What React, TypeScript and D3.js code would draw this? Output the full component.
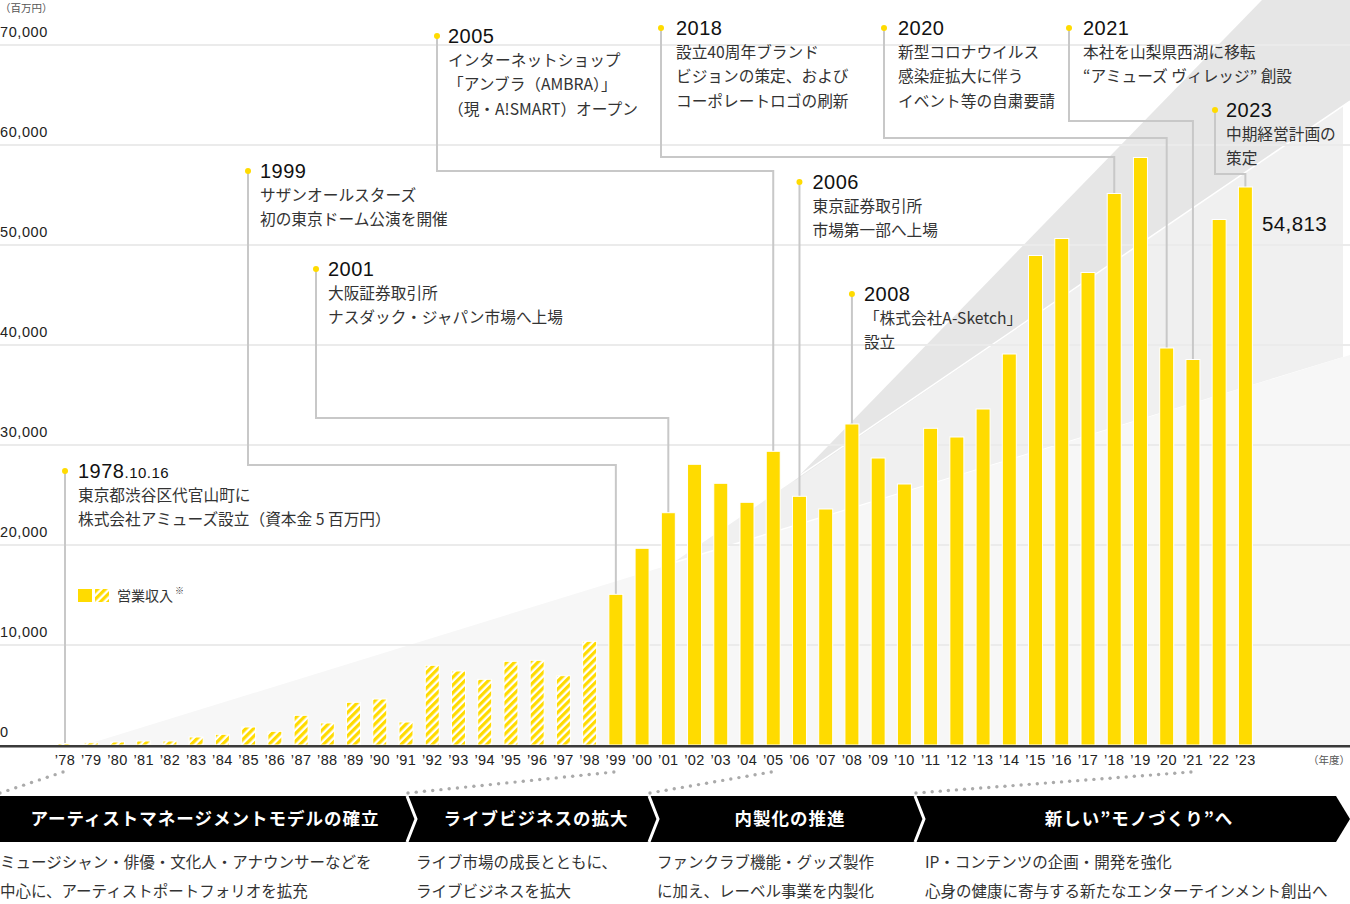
import React from "react";
import * as d3 from "d3";

// ---------- DATA ----------
const yearLabels = [
  "78","79","80","81","82","83","84","85","86","87","88","89","90","91","92","93","94","95","96","97","98",
  "99","00","01","02","03","04","05","06","07","08","09","10","11","12","13","14","15","16","17","18","19","20","21","22","23",
];
const revenue = [
  150, 220, 300, 400, 400, 800, 1070, 1800, 1370, 2970, 2200, 4270, 4600, 2300, 7970, 7400, 6570, 8370, 8470, 6930, 10370,
  15070, 19670, 23230, 28070, 26170, 24270, 29370, 24870, 23600, 32100, 28700, 26100, 31670, 30800, 33600, 39100, 48950,
  50650, 47250, 55150, 58750, 39700, 38550, 52550, 55800,
];
const hatchedUntil = "98"; // bars up to this year are hatched
const yTicks = [0, 10000, 20000, 30000, 40000, 50000, 60000, 70000];
const lastValueLabel = "54,813";

const annoYears = ["78", "99", "01", "05", "06", "08", "18", "20", "21", "23"];
const annoTitles = ["1978", "1999", "2001", "2005", "2006", "2008", "2018", "2020", "2021", "2023"];
const annoTitleSuffix = [".10.16", "", "", "", "", "", "", "", "", ""];
const annoLines = [
  ["東京都渋谷区代官山町に", "株式会社アミューズ設立（資本金 5 百万円）"],
  ["サザンオールスターズ", "初の東京ドーム公演を開催"],
  ["大阪証券取引所", "ナスダック・ジャパン市場へ上場"],
  ["インターネットショップ", "「アンブラ（AMBRA）」", "（現・A!SMART）オープン"],
  ["東京証券取引所", "市場第一部へ上場"],
  ["「株式会社A-Sketch」", "設立"],
  ["設立40周年ブランド", "ビジョンの策定、および", "コーポレートロゴの刷新"],
  ["新型コロナウイルス", "感染症拡大に伴う", "イベント等の自粛要請"],
  ["本社を山梨県西湖に移転", "“アミューズ ヴィレッジ” 創設"],
  ["中期経営計画の", "策定"],
];

const phaseTitles = ["アーティストマネージメントモデルの確立", "ライブビジネスの拡大", "内製化の推進", "新しい”モノづくり”へ"];
const phaseStartYears = ["78", "99", "05", "21"];
const phaseDesc = [
  ["ミュージシャン・俳優・文化人・アナウンサーなどを", "中心に、アーティストポートフォリオを拡充"],
  ["ライブ市場の成長とともに、", "ライブビジネスを拡大"],
  ["ファンクラブ機能・グッズ製作", "に加え、レーベル事業を内製化"],
  ["IP・コンテンツの企画・開発を強化", "心身の健康に寄与する新たなエンターテインメント創出へ"],
];

// ---------- LAYOUT ----------
const W = 1350;
const H = 904;
const YELLOW = "#FFDB00";
const NUM = "'Liberation Sans', Arial, 'Noto Sans CJK JP', sans-serif";
const JP = "'Noto Sans CJK JP', 'Liberation Sans', sans-serif";

// annotation layout: dot x (null => bar centre), dot y, elbow y (null => straight), text offset
const annoLayout = [
  { dx: null, dy: 471, ey: null, off: 13 },
  { dx: 248, dy: 171, ey: 465, off: 12 },
  { dx: 316, dy: 269, ey: 418, off: 12 },
  { dx: 437, dy: 36, ey: 171, off: 11 },
  { dx: null, dy: 182, ey: null, off: 13 },
  { dx: null, dy: 294, ey: null, off: 12 },
  { dx: 661, dy: 28, ey: 157, off: 15 },
  { dx: 884, dy: 28, ey: 138, off: 14 },
  { dx: 1069, dy: 28, ey: 121, off: 14 },
  { dx: 1215, dy: 110, ey: 174, off: 11 },
];
const phaseX = [0, 410, 652, 918, 1336];
const phaseTextX = [0, 416, 657, 925];

function dottedLine(x1: number, y1: number, x2: number, y2: number, step = 8) {
  const len = Math.hypot(x2 - x1, y2 - y1);
  const n = Math.floor(len / step);
  const pts = [];
  for (let i = 0; i <= n; i++) {
    const t = i / n;
    pts.push([x1 + (x2 - x1) * t, y1 + (y2 - y1) * t]);
  }
  return pts;
}

export default function App() {
  const x = d3
    .scaleBand<string>()
    .domain(yearLabels)
    .range([51.9, 1258.5])
    .paddingInner(0.466)
    .paddingOuter(0.233);
  const y = d3.scaleLinear().domain([0, 70000]).range([745, 45]);
  const bw = x.bandwidth();
  const cx = (k: string) => (x(k) as number) + bw / 2;
  const hatchIdx = yearLabels.indexOf(hatchedUntil);

  const L1 = d3.line()([
    [85, 745],
    [1350, 745],
    [1350, 355],
  ]);

  return (
    <svg width={W} height={H} style={{ display: "block", position: "absolute", left: 0, top: 0, background: "#fff" }}>
      <defs>
        <pattern id="hatch" patternUnits="userSpaceOnUse" width="5.5" height="5.5" patternTransform="rotate(45)">
          <rect width="5.5" height="5.5" fill="#fff" />
          <rect width="3.2" height="5.5" fill={YELLOW} />
        </pattern>
      </defs>

      {/* background shapes */}
      <path d={L1 + "Z"} fill="#f7f7f7" />
      <polygon points="673,562 1343,106 1343,357" fill="#f0f0f0" />
      <polygon points="793,482 1262,0 1350,0 1350,101" fill="#e6e6e6" />
      <line x1={673} y1={562} x2={1350} y2={101} stroke="#fff" strokeWidth={1.5} />

      {/* gridlines */}
      {yTicks.slice(1).map((t) => (
        <line key={t} x1={0} x2={W} y1={y(t)} y2={y(t)} stroke="#ebebeb" strokeWidth={2} />
      ))}
      {/* y labels */}
      {yTicks.map((t) => (
        <text key={"l" + t} x={0} y={y(t) - 8} fontFamily={NUM} fontSize={14.5} letterSpacing={0.6} fill="#222">
          {d3.format(",")(t)}
        </text>
      ))}
      <text x={0} y={12} fontFamily={JP} fontSize={10.5} fill="#555">
        （百万円）
      </text>

      {/* connectors */}
      {annoYears.map((k, i) => {
        const L = annoLayout[i];
        const bx = cx(k);
        const dx = L.dx == null ? bx : L.dx;
        const top = y(revenue[yearLabels.indexOf(k)]);
        const pts: [number, number][] =
          L.ey == null
            ? [
                [dx, L.dy],
                [dx, top],
              ]
            : [
                [dx, L.dy],
                [dx, L.ey],
                [bx, L.ey],
                [bx, top],
              ];
        return <path key={"c" + k} d={d3.line()(pts) as string} fill="none" stroke="#c8c8c8" strokeWidth={2} />;
      })}

      {/* bars */}
      {yearLabels.map((k, i) => (
        <rect
          key={k}
          x={x(k)}
          y={y(revenue[i])}
          width={bw}
          height={y(0) - y(revenue[i])}
          fill={i <= hatchIdx ? "url(#hatch)" : YELLOW}
          stroke="#fff"
          strokeWidth={1}
        />
      ))}

      {/* axis */}
      <line x1={0} x2={W} y1={746} y2={746} stroke="#3a3a3a" strokeWidth={2} />
      <line x1={0} x2={W} y1={747.5} y2={747.5} stroke="#999" strokeWidth={1} />
      {yearLabels.map((k) => (
        <text key={"t" + k} x={cx(k)} y={765} textAnchor="middle" fontFamily={NUM} fontSize={14.5} letterSpacing={0.4} fill="#222">
          {"’" + k}
        </text>
      ))}
      <text x={W} y={764} textAnchor="end" fontFamily={JP} fontSize={10.5} fill="#555">
        （年度）
      </text>

      {/* legend */}
      <rect x={78} y={589} width={14} height={13} fill={YELLOW} />
      <rect x={95} y={589} width={14} height={13} fill="url(#hatch)" />
      <text x={117} y={601} fontFamily={JP} fontSize={14} fill="#333">
        営業収入
      </text>
      <text x={175} y={594} fontFamily={JP} fontSize={9} fill="#333">
        ※
      </text>

      {/* annotations */}
      {annoYears.map((k, i) => {
        const L = annoLayout[i];
        const dx = L.dx == null ? cx(k) : L.dx;
        const tx = dx + L.off;
        return (
          <g key={"a" + k}>
            <circle cx={dx} cy={L.dy} r={3} fill={YELLOW} />
            <text x={tx} y={L.dy + 7} fontFamily={NUM} fontSize={20} letterSpacing={0.5} fill="#111">
              {annoTitles[i]}
              {annoTitleSuffix[i] && <tspan fontSize={15}>{annoTitleSuffix[i]}</tspan>}
            </text>
            {annoLines[i].map((s, j) => (
              <text key={j} x={tx} y={L.dy + 30 + j * 24.3} fontFamily={JP} fontSize={15.7} fill="#333">
                {s}
              </text>
            ))}
          </g>
        );
      })}

      {/* last value */}
      <text x={1262} y={231} fontFamily={NUM} fontSize={20.5} letterSpacing={0.4} fill="#111">
        {lastValueLabel}
      </text>

      {/* dotted connectors to phases */}
      {phaseStartYears.map((k, i) => {
        const pts = dottedLine(cx(k) - 2, 772, phaseX[i] === 0 ? 0 : phaseX[i] - 2, 793);
        return (
          <g key={"d" + k}>
            {pts.map((p, j) => (
              <circle key={j} cx={p[0]} cy={p[1]} r={1.7} fill="#aaa" />
            ))}
          </g>
        );
      })}

      {/* phase banner */}
      <path d={`M0,796 L${phaseX[4]},796 L1350,819 L${phaseX[4]},842 L0,842 Z`} fill="#000" />
      {phaseX.slice(1, 4).map((px, i) => (
        <path key={"s" + i} d={`M${px - 3},796 L${px + 6},819 L${px - 3},842`} fill="none" stroke="#fff" strokeWidth={3} />
      ))}
      {phaseTitles.map((t, i) => (
        <text
          key={"p" + i}
          x={(phaseX[i] + (i === 3 ? 1350 : phaseX[i + 1])) / 2 + (i === 0 ? 0 : 5)}
          y={825}
          textAnchor="middle"
          fontFamily={JP}
          fontWeight={700}
          fontSize={17.5}
          letterSpacing={1}
          fill="#fff"
        >
          {t}
        </text>
      ))}
      {phaseDesc.map((lines, i) =>
        lines.map((s, j) => (
          <text key={"pd" + i + j} x={phaseTextX[i]} y={868 + j * 29} fontFamily={JP} fontSize={15.5} fill="#333">
            {s}
          </text>
        ))
      )}
    </svg>
  );
}
